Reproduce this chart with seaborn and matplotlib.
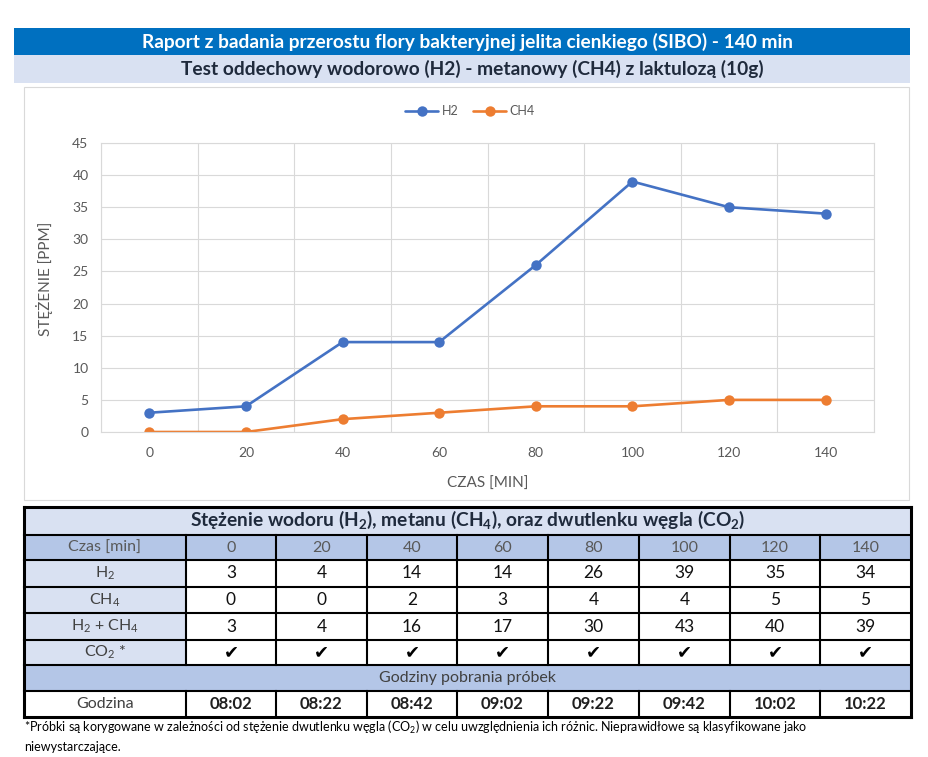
import matplotlib
matplotlib.use("Agg")
import matplotlib.pyplot as plt
import pandas as pd
import seaborn as sns
from matplotlib.patches import Rectangle
from matplotlib.lines import Line2D

# Data
czas = [0, 20, 40, 60, 80, 100, 120, 140]
h2 = [3, 4, 14, 14, 26, 39, 35, 34]
ch4 = [0, 0, 2, 3, 4, 4, 5, 5]
suma = [3, 4, 16, 17, 30, 43, 40, 39]
co2_ok = [True, True, True, True, True, True, True, True]
godziny = ["08:02", "08:22", "08:42", "09:02", "09:22", "09:42", "10:02", "10:22"]

df = pd.DataFrame({
    "czas": czas * 2,
    "ppm": h2 + ch4,
    "gaz": ["H2"] * len(czas) + ["CH4"] * len(czas),
})

W, H = 929, 757

sns.set_style("white")
plt.rcParams["font.family"] = ["Lato", "DejaVu Sans"]
plt.rcParams["mathtext.fontset"] = "custom"
plt.rcParams["mathtext.rm"] = "Lato"
plt.rcParams["mathtext.it"] = "Lato:italic"
plt.rcParams["mathtext.bf"] = "Lato:bold"

fig = plt.figure(figsize=(W / 100, H / 100), dpi=100)
fig.patch.set_facecolor("white")


def fx(x):
    return x / W


def fy(y):
    return 1 - y / H


def box(x0, y0, x1, y1, fc, ec="none", lw=0, z=1):
    fig.add_artist(Rectangle((fx(x0), fy(y1)), fx(x1) - fx(x0), fy(y0) - fy(y1),
                             transform=fig.transFigure, facecolor=fc,
                             edgecolor=ec, linewidth=lw, zorder=z))


def hline(y, x0, x1, lw=1.5):
    fig.add_artist(Line2D([fx(x0), fx(x1)], [fy(y), fy(y)], transform=fig.transFigure,
                          color="black", linewidth=lw, solid_capstyle="projecting", zorder=3))


def vline(x, y0, y1, lw=1.5):
    fig.add_artist(Line2D([fx(x), fx(x)], [fy(y0), fy(y1)], transform=fig.transFigure,
                          color="black", linewidth=lw, solid_capstyle="projecting", zorder=3))


def txt(x, y, s, ha="center", **kw):
    fig.text(fx(x), fy(y), s, ha=ha, va="center", zorder=4, **kw)


# Header bars
box(14, 28, 910, 55, "#0070C0")
txt(468, 42, "Raport z badania przerostu flory bakteryjnej jelita cienkiego (SIBO) - 140 min",
    color="white", weight="bold", size=13.8)
box(14, 55, 910, 83, "#D9E1F2")
txt(472, 69, "Test oddechowy wodorowo (H2) - metanowy (CH4) z laktulozą (10g)",
    color="#1F2A3C", weight="bold", size=13.8)

# Chart frame
box(24, 87, 909, 500, "white", ec="#D9D9D9", lw=0.8, z=-1)

# Line chart
ax = fig.add_axes([fx(101), fy(432), fx(874) - fx(101), fy(143) - fy(432)])
ax.set_zorder(2)
ax.patch.set_alpha(0)
sns.lineplot(data=df, x="czas", y="ppm", hue="gaz", hue_order=["H2", "CH4"],
             palette=["#4472C4", "#ED7D31"], marker="o", markersize=7.5,
             markeredgewidth=0, linewidth=1.9, ax=ax)
ax.set_xlim(-10, 150)
ax.set_ylim(0, 45)
ax.set_yticks(range(0, 50, 5))
ax.set_xticks(czas)
ax.set_xticks(range(-10, 160, 20), minor=True)
ax.grid(axis="y", which="major", color="#D9D9D9", linewidth=0.8)
ax.grid(axis="x", which="minor", color="#D9D9D9", linewidth=0.8)
ax.set_axisbelow(True)
ax.tick_params(which="both", length=0, colors="#595959", labelsize=10)
ax.tick_params(axis="y", pad=9)
ax.tick_params(axis="x", pad=11)
for s in ax.spines.values():
    s.set_color("#D9D9D9")
    s.set_linewidth(0.8)
ax.set_xlabel("CZAS [MIN]", color="#595959", fontsize=11)
ax.set_ylabel("STĘŻENIE [PPM]", color="#595959", fontsize=11)
ax.xaxis.set_label_coords(0.5, -0.156)
ax.yaxis.set_label_coords(-0.062, 0.53)

handles, labels = ax.get_legend_handles_labels()
ax.get_legend().remove()
fig.legend(handles, labels, loc="center", bbox_to_anchor=(fx(470), fy(111)), ncol=2,
           frameon=False, fontsize=9, handlelength=2.6, columnspacing=1.2,
           handletextpad=0.3, labelcolor="#595959")

# Table
rows = [507, 535, 560, 587, 613, 640, 665, 691, 717]
cols = [24, 186, 276, 367, 457, 548, 639, 730, 820, 911]
x0, x1 = cols[0], cols[-1]
light = "#D9E1F2"
mid = "#B4C6E7"

box(x0, rows[0], x1, rows[1], light)
box(x0, rows[1], x1, rows[2], mid)
for r in range(2, 6):
    box(x0, rows[r], cols[1], rows[r + 1], light)
    box(cols[1], rows[r], x1, rows[r + 1], "white")
box(x0, rows[6], x1, rows[7], mid)
box(x0, rows[7], x1, rows[8], "white")

for y in rows[1:-1]:
    hline(y, x0, x1)
for x in cols[1:-1]:
    vline(x, rows[1], rows[6])
    vline(x, rows[7], rows[8])
for y in (rows[0], rows[-1]):
    hline(y, x0, x1, lw=2.2)
for x in (x0, x1):
    vline(x, rows[0], rows[-1], lw=2.2)


def cy(r):
    return (rows[r] + rows[r + 1]) / 2


def cx(c):
    return (cols[c] + cols[c + 1]) / 2


txt((x0 + x1) / 2, cy(0) - 1,
    r"Stężenie wodoru (H$_\mathbf{2}$), metanu (CH$_\mathbf{4}$), oraz dwutlenku węgla (CO$_\mathbf{2}$)",
    color="#1F2A3C", weight="bold", size=13.8)

row_labels = ["Czas [min]", "H$_2$", "CH$_4$", "H$_2$ + CH$_4$", "CO$_2$ *"]
for i, lab in enumerate(row_labels):
    txt(cx(0), cy(i + 1), lab, color="#595959" if i == 0 else "#404040", size=11.5)

for j in range(len(czas)):
    txt(cx(j + 1), cy(1), str(czas[j]), color="#595959", size=11.5)
    txt(cx(j + 1), cy(2), str(h2[j]), color="#111111", size=12.5)
    txt(cx(j + 1), cy(3), str(ch4[j]), color="#111111", size=12.5)
    txt(cx(j + 1), cy(4), str(suma[j]), color="#111111", size=12.5)
    if co2_ok[j]:
        txt(cx(j + 1), cy(5), "✔", color="black", size=13, family="DejaVu Sans")
    txt(cx(j + 1), cy(7), godziny[j], color="#1F1F1F", weight="bold", size=12)

txt((x0 + x1) / 2, cy(6), "Godziny pobrania próbek", color="#404040", size=11.5)
txt(cx(0), cy(7), "Godzina", color="#404040", size=11.5)

# Footnote
txt(24, 727, "*Próbki są korygowane w zależności od stężenie dwutlenku węgla (CO$_2$) w celu "
    "uwzględnienia ich różnic. Nieprawidłowe są klasyfikowane jako",
    ha="left", color="black", size=9)
txt(24, 747, "niewystarczające.", ha="left", color="black", size=9)

fig.savefig("out.png", dpi=100, facecolor="white")
